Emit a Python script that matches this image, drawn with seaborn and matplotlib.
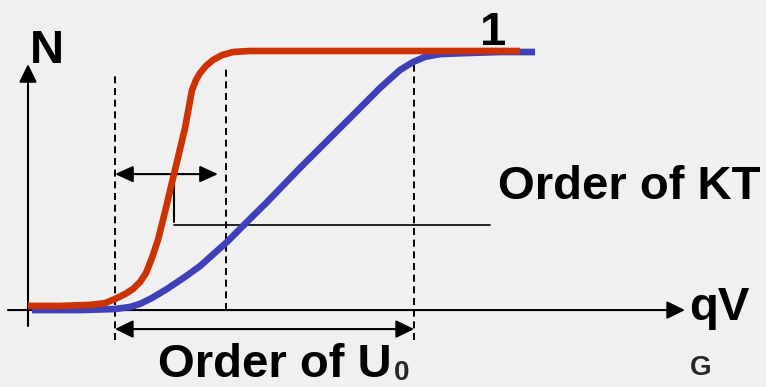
import matplotlib
matplotlib.use("Agg")
import matplotlib.pyplot as plt
from matplotlib.patches import FancyArrowPatch
import seaborn as sns

# curves: x in qV_G units (arbitrary), N from 0 to 1
red_x = [28, 60, 90, 105, 115, 125, 133, 140, 146, 152, 158, 165, 174, 185, 192,
         196, 200, 206, 213, 222, 233, 250, 300, 400, 520]
red_n = [0.008, 0.008, 0.012, 0.019, 0.035, 0.054, 0.074, 0.101, 0.136, 0.195, 0.265,
         0.374, 0.521, 0.700, 0.848, 0.887, 0.914, 0.942, 0.965, 0.984, 0.996, 1.0,
         1.0, 1.0, 1.0]

blue_x = [32, 80, 115, 130, 140, 152, 167, 185, 200, 227, 247, 267, 300, 350, 380,
          400, 413, 425, 440, 467, 500, 535]
blue_n = [-0.008, -0.008, -0.004, 0.004, 0.016, 0.039, 0.074, 0.121, 0.163, 0.257,
          0.335, 0.412, 0.545, 0.739, 0.856, 0.926, 0.957, 0.977, 0.988, 0.992,
          0.996, 0.996]

# reference lines
dash_x = [115, 226, 414]
dash_top = [0.918, 0.946, 0.965]
dash_bot = [-0.125, -0.008, -0.125]

bg = "#f0f0f0"
sns.set_style("white", {"axes.facecolor": bg, "figure.facecolor": bg})
fam = ["Liberation Sans", "DejaVu Sans"]

fig = plt.figure(figsize=(7.66, 3.87), dpi=100)
ax = fig.add_axes([0, 0, 1, 1])
ax.set_xlim(0, 766)
ax.set_ylim(-0.3074, 1.1984)
ax.axis("off")


def arrow(p0, p1, style, lw=1.5, hl=11, hw=5.4):
    ax.add_patch(FancyArrowPatch(p0, p1, arrowstyle=f"{style},head_length={hl},head_width={hw}",
                                 mutation_scale=1, lw=lw, color="black",
                                 shrinkA=0, shrinkB=0, zorder=3))


# axes with arrows
arrow((28, -0.070), (28, 0.949), "-|>")
arrow((8, -0.008), (685, -0.008), "-|>")

# dashed markers
for x, t, b in zip(dash_x, dash_top, dash_bot):
    ax.plot([x, x], [b, t], color="black", lw=1.4, ls=(0, (3.6, 2.4)), zorder=2)

# KT width arrow and leader
arrow((115, 0.521), (218, 0.521), "<|-|>", lw=1.5, hl=11, hw=5)
ax.plot([174, 174], [0.521, 0.335], color="black", lw=1.5, zorder=3)
ax.plot([174, 490], [0.323, 0.323], color="black", lw=1.2, zorder=3)

# U0 width arrow
arrow((115, -0.082), (414, -0.082), "<|-|>", lw=1.5, hl=11, hw=5.4)

# curves
sns.lineplot(x=blue_x, y=blue_n, sort=False, estimator=None, color="#4040b8",
             lw=4.8, ax=ax, zorder=4, solid_capstyle="butt")
sns.lineplot(x=red_x, y=red_n, sort=False, estimator=None, color="#cc3300",
             lw=4.8, ax=ax, zorder=5, solid_capstyle="butt")

# labels
tk = dict(fontsize=34, fontweight="bold", family=fam, va="baseline", color="black")
ax.text(30, 0.953, "N", **tk)
ax.text(480, 1.023, "1", **tk)
ax.text(498, 0.424, "Order of KT", **tk)
ax.text(158, -0.268, "Order of U", **tk)
ax.text(394, -0.280, "0", fontsize=20, fontweight="bold", family=fam, va="baseline")
ax.text(689, -0.047, "qV", **tk)
ax.text(690, -0.261, "G", fontsize=20, fontweight="bold", family=fam, va="baseline")

fig.savefig("out.png", dpi=100, facecolor=bg)
